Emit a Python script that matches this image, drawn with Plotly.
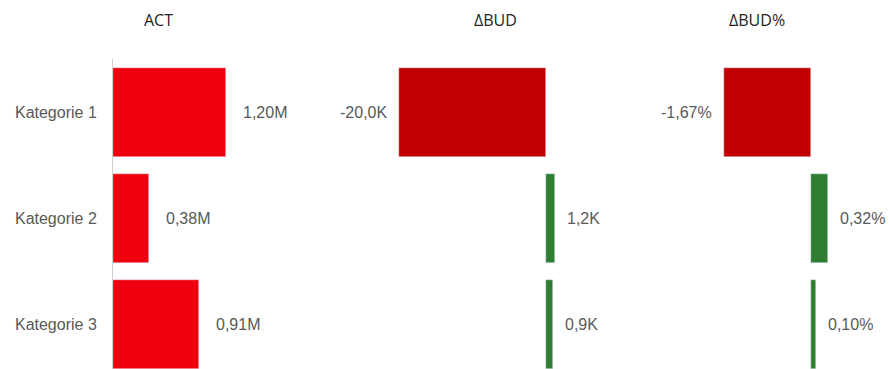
import plotly.graph_objects as go

# data
categories = ["Kategorie 1", "Kategorie 2", "Kategorie 3"]
act = [1.20e6, 0.38e6, 0.91e6]
delta_bud = [-20.0e3, 1.2e3, 0.9e3]
delta_bud_pct = [-1.67, 0.32, 0.10]
titles = ["ACT", "ΔBUD", "ΔBUD%"]

W, H = 890, 369
RED = "#F0000F"
DARK_RED = "#C00000"
GREEN = "#2E7D32"
TXT = "#595959"


def px(x):
    # screen x -> paper fraction
    return x / W


def py(y):
    # screen y -> paper fraction
    return 1 - y / H


def fmt_m(v):
    return f"{v / 1e6:.2f}M".replace(".", ",")


def fmt_k(v):
    return f"{v / 1e3:.1f}K".replace(".", ",")


def fmt_pct(v):
    return f"{v:.2f}%".replace(".", ",")


fig = go.Figure()

# ACT panel
fig.add_trace(go.Bar(y=categories, x=act, orientation="h", width=0.835,
                     marker_color=RED, xaxis="x", yaxis="y", hoverinfo="skip"))
# delta panels
fig.add_trace(go.Bar(y=categories, x=delta_bud, orientation="h", width=0.835,
                     marker_color=[DARK_RED if v < 0 else GREEN for v in delta_bud],
                     xaxis="x2", yaxis="y", hoverinfo="skip"))
fig.add_trace(go.Bar(y=categories, x=delta_bud_pct, orientation="h", width=0.835,
                     marker_color=[DARK_RED if v < 0 else GREEN for v in delta_bud_pct],
                     xaxis="x3", yaxis="y", hoverinfo="skip"))

annotations = []
panels = [("x", act, fmt_m, 15), ("x2", delta_bud, fmt_k, 10), ("x3", delta_bud_pct, fmt_pct, 10)]
for xref, vals, fmt, gap in panels:
    for cat, v in zip(categories, vals):
        neg = v < 0
        annotations.append(dict(
            x=v, y=cat, xref=xref, yref="y", text=fmt(v), showarrow=False,
            xanchor="right" if neg else "left", xshift=-gap if neg else gap,
            font=dict(family="Arial, Liberation Sans", size=16, color=TXT)))

for t, cx in zip(titles, [158, 496, 757]):
    annotations.append(dict(
        x=px(cx), y=py(20), xref="paper", yref="paper", text=t, showarrow=False,
        xanchor="center", yanchor="middle",
        font=dict(family="Open Sans", size=16, color="#252423")))

# axis geometry (screen pixel based)
base1, base2, base3 = 113, 546, 811
s1 = 113 / 1.2e6      # px per unit
s2 = 147 / 20.0e3
s3 = 87 / 1.67

hidden = dict(showgrid=False, zeroline=False, showticklabels=False, showline=False, fixedrange=True)
fig.update_layout(
    width=W, height=H,
    margin=dict(l=0, r=0, t=0, b=0),
    paper_bgcolor="white", plot_bgcolor="white",
    showlegend=False,
    bargap=0,
    xaxis=dict(domain=[px(base1), px(330)], range=[0, (330 - base1) / s1], **hidden),
    xaxis2=dict(domain=[px(335), px(640)], range=[(335 - base2) / s2, (640 - base2) / s2],
                anchor="y", **hidden),
    xaxis3=dict(domain=[px(645), px(890)], range=[(645 - base3) / s3, (890 - base3) / s3],
                anchor="y", **hidden),
    yaxis=dict(domain=[py(369), py(59)], type="category", range=[2.416, -0.5],
               showgrid=False, zeroline=False, showline=True, linecolor="#cfcfcf",
               linewidth=1, ticks="", ticklabelstandoff=12,
               tickfont=dict(family="Arial, Liberation Sans", size=16, color=TXT),
               anchor="x"),
    annotations=annotations,
)

# page without body margin / scrollbars so the figure fills the window
fig.write_html("out.html", config={"displayModeBar": False},
               post_script="document.body.style.margin='0';document.body.style.overflow='hidden';")
